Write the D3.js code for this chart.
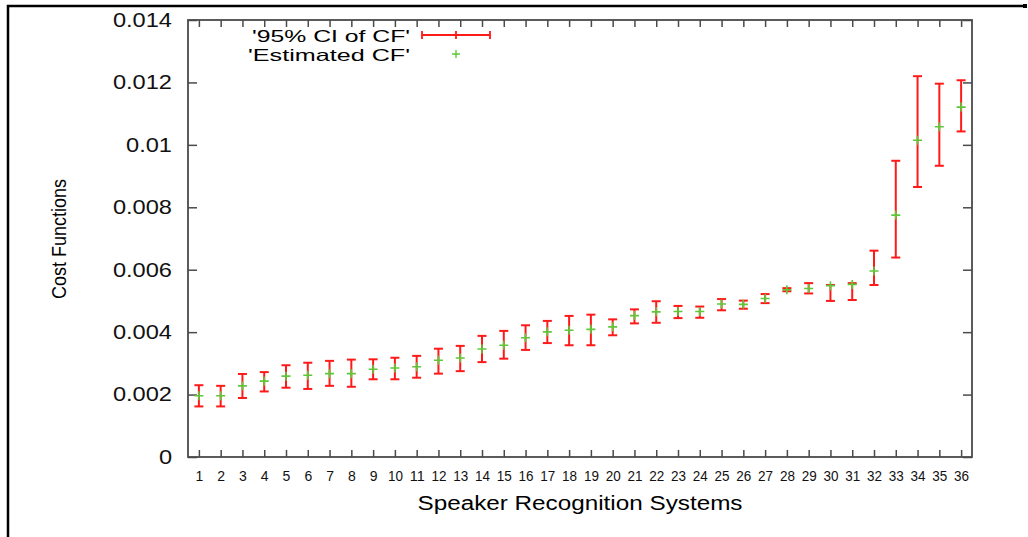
<!DOCTYPE html>
<html>
<head>
<meta charset="utf-8">
<script src="https://cdn.jsdelivr.net/npm/d3@7"></script>
<style>
  body { margin: 0; background: #fff; }
  svg { display: block; font-family: "Liberation Sans", Arial, sans-serif; }
</style>
</head>
<body>
<div id="chart"></div>
<script>
// values
var systems = [1,2,3,4,5,6,7,8,9,10,11,12,13,14,15,16,17,18,19,20,21,22,23,24,25,26,27,28,29,30,31,32,33,34,35,36]
var estimated = [0.00196,0.00196,0.00228,0.00243,0.00259,0.00262,0.00267,0.00267,0.00281,0.00285,0.00289,0.0031,0.00317,0.00346,0.00358,0.00382,0.00401,0.00406,0.00409,0.00417,0.00453,0.00465,0.00466,0.00466,0.0049,0.00489,0.00508,0.00536,0.0054,0.00549,0.00553,0.00596,0.00775,0.01015,0.01058,0.01121]
var ciLow = [0.00162,0.00162,0.00189,0.0021,0.00222,0.00218,0.00228,0.00225,0.00249,0.00249,0.00254,0.00267,0.00275,0.00304,0.00315,0.00343,0.00365,0.00358,0.00358,0.0039,0.00428,0.0043,0.00445,0.00446,0.0047,0.00475,0.00493,0.00531,0.00524,0.005,0.00503,0.00551,0.00639,0.00865,0.00933,0.01043]
var ciHigh = [0.0023,0.00228,0.00266,0.00272,0.00294,0.00302,0.00308,0.00312,0.00313,0.00318,0.00324,0.00347,0.00356,0.00388,0.00404,0.00422,0.00436,0.00452,0.00456,0.00441,0.00473,0.00499,0.00484,0.00482,0.00506,0.00501,0.00522,0.00541,0.00557,0.00551,0.00557,0.00661,0.00949,0.0122,0.01196,0.01207]
var yTicks = [0,0.002,0.004,0.006,0.008,0.01,0.012,0.014]
var legendLabels = ["'95% CI of CF'", "'Estimated CF'"]

var W = 1028, H = 537
var m = {left: 188, right: 972, top: 20, bottom: 457}
var red = "#ff1a1a", green = "#5cc93a", axisCol = "#4a4a4a"

var svg = d3.select("#chart").append("svg")
  .attr("width", W).attr("height", H)

// outer frame (only top and left show in the original)
svg.append("path")
  .attr("d", "M8,537 V6 H1025")
  .attr("fill", "none").attr("stroke", "#000").attr("stroke-width", 2.5)
svg.append("rect").attr("x", 1023).attr("y", 4).attr("width", 4).attr("height", 4).attr("fill", "#000")

var x = d3.scaleLinear().domain([0.5, 36.5]).range([m.left, m.right])
var y = d3.scaleLinear().domain([0, 0.014]).range([m.bottom, m.top])

function fmt(d) { return d === 0 ? "0" : String(+d.toFixed(3)) }

// the original font is a bit wider than Liberation Sans
function widen(sel, k) {
  sel.each(function() {
    var w = this.getComputedTextLength()
    d3.select(this).attr("textLength", w * k).attr("lengthAdjust", "spacingAndGlyphs")
  })
}

// axes, ticks pointing inward like gnuplot
var gl = svg.append("g").attr("transform", `translate(${m.left},0)`)
  .call(d3.axisLeft(y).tickValues(yTicks).tickFormat(fmt).tickSizeInner(-9).tickSizeOuter(0).tickPadding(16))
var gr = svg.append("g").attr("transform", `translate(${m.right},0)`)
  .call(d3.axisRight(y).tickValues(yTicks).tickFormat("").tickSizeInner(-9).tickSizeOuter(0))
var gb = svg.append("g").attr("transform", `translate(0,${m.bottom})`)
  .call(d3.axisBottom(x).tickValues(systems).tickFormat(d3.format("d")).tickSizeInner(-7).tickSizeOuter(0).tickPadding(14))
var gt = svg.append("g").attr("transform", `translate(0,${m.top})`)
  .call(d3.axisTop(x).tickValues(systems).tickFormat("").tickSizeInner(-7).tickSizeOuter(0))

svg.selectAll(".domain").remove()
svg.selectAll(".tick line").attr("stroke", axisCol).attr("stroke-width", 1.5)
gl.selectAll("text").attr("font-size", 20).attr("fill", "#111").call(widen, 1.18)
gb.selectAll("text").attr("font-size", 14).attr("fill", "#111")
  .attr("textLength", function(d) { return d > 9 ? 15 : null })
  .attr("lengthAdjust", "spacingAndGlyphs")

svg.append("rect")
  .attr("x", m.left).attr("y", m.top)
  .attr("width", m.right - m.left).attr("height", m.bottom - m.top)
  .attr("fill", "none").attr("stroke", axisCol).attr("stroke-width", 1.8)

// axis titles
svg.append("text")
  .attr("transform", "translate(66,239) rotate(-90)")
  .attr("text-anchor", "middle")
  .attr("font-size", 20)
  .attr("textLength", 120).attr("lengthAdjust", "spacingAndGlyphs")
  .text("Cost Functions")

svg.append("text")
  .attr("x", 580).attr("y", 510)
  .attr("text-anchor", "middle")
  .attr("font-size", 20)
  .attr("textLength", 325).attr("lengthAdjust", "spacingAndGlyphs")
  .text("Speaker Recognition Systems")

// error bars
var cap = 4.5
var bars = svg.append("g").selectAll("g").data(systems).join("g")
  .attr("stroke", red).attr("stroke-width", 2)
bars.append("line")
  .attr("x1", d => x(d)).attr("x2", d => x(d))
  .attr("y1", (d, i) => y(ciLow[i])).attr("y2", (d, i) => y(ciHigh[i]))
bars.append("line")
  .attr("x1", d => x(d) - cap).attr("x2", d => x(d) + cap)
  .attr("y1", (d, i) => y(ciLow[i])).attr("y2", (d, i) => y(ciLow[i]))
bars.append("line")
  .attr("x1", d => x(d) - cap).attr("x2", d => x(d) + cap)
  .attr("y1", (d, i) => y(ciHigh[i])).attr("y2", (d, i) => y(ciHigh[i]))

// estimated points as plus signs
var ps = 4.5
svg.append("g").selectAll("path").data(systems).join("path")
  .attr("d", (d, i) => {
    var cx = x(d), cy = y(estimated[i])
    return `M${cx - ps},${cy}H${cx + ps}M${cx},${cy - ps}V${cy + ps}`
  })
  .attr("stroke", green).attr("stroke-width", 1.6).attr("fill", "none")

// legend
var leg = svg.append("g")
leg.selectAll("text").data(legendLabels).join("text")
  .attr("x", 410).attr("y", (d, i) => 42 + i * 19)
  .attr("text-anchor", "end")
  .attr("font-size", 16.5)
  .attr("textLength", (d, i) => i === 0 ? 158 : 162)
  .attr("lengthAdjust", "spacingAndGlyphs")
  .text(d => d)
leg.append("path")
  .attr("d", "M422,35H490M422,31V39M490,31V39M456,31V39")
  .attr("stroke", red).attr("stroke-width", 1.8).attr("fill", "none")
leg.append("path")
  .attr("d", "M452,54H460M456,50V58")
  .attr("stroke", green).attr("stroke-width", 1.4).attr("fill", "none")
</script>
</body>
</html>
